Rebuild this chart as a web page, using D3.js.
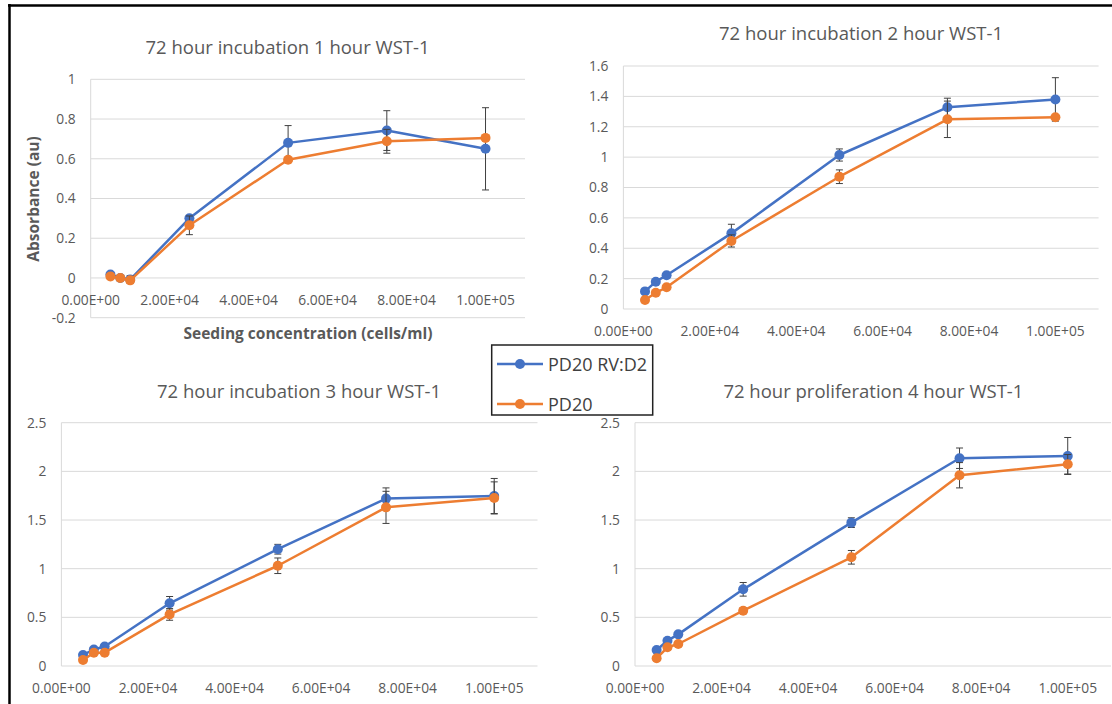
<!DOCTYPE html>
<html>
<head>
<meta charset="utf-8">
<script src="https://cdn.jsdelivr.net/npm/d3@7"></script>
<style>
    body { margin: 0; background: #fff; }
    svg { display: block; font-family: "Open Sans", sans-serif; }
    .tick-label { fill: #595959; font-size: 13.8px; }
    .chart-title { fill: #595959; font-size: 18.5px; }
    .axis-title { fill: #595959; font-size: 15.5px; font-weight: bold; }
    .grid { stroke: #d9d9d9; stroke-width: 1; }
    .err { stroke: #404040; stroke-width: 1; }
    .legend-text { fill: #404040; font-size: 18px; }
</style>
</head>
<body>
<div id="chart"></div>
<script>

// seeding concentrations (cells/ml), shared by all four charts
var concentrations = [5000, 7500, 10000, 25000, 50000, 75000, 100000];
var seriesNames = ["PD20 RV:D2", "PD20"];
var seriesColors = ["#4472C4", "#ED7D31"];
var xTicks = [0, 20000, 40000, 60000, 80000, 100000];

var titles = [
    "72 hour incubation 1 hour WST-1",
    "72 hour incubation 2 hour WST-1",
    "72 hour incubation 3 hour WST-1",
    "72 hour proliferation 4 hour WST-1"
];

// absorbance means and error bars (au)
var rvD2_1h = [0.017, 0.0, -0.008, 0.30, 0.68, 0.742, 0.65];
var pd20_1h = [0.008, 0.0, -0.012, 0.265, 0.595, 0.688, 0.705];
var rvD2_1hErr = [0.01, 0.01, 0.02, 0.015, 0.087, 0.10, 0.207];
var pd20_1hErr = [0.01, 0.01, 0.01, 0.047, 0.01, 0.06, 0.01];

var rvD2_2h = [0.116, 0.18, 0.222, 0.498, 1.014, 1.328, 1.38];
var pd20_2h = [0.059, 0.107, 0.143, 0.448, 0.871, 1.249, 1.262];
var rvD2_2hErr = [0.01, 0.01, 0.01, 0.06, 0.04, 0.06, 0.143];
var pd20_2hErr = [0.01, 0.01, 0.01, 0.04, 0.045, 0.12, 0.01];

var rvD2_3h = [0.113, 0.17, 0.2, 0.644, 1.2, 1.72, 1.747];
var pd20_3h = [0.062, 0.137, 0.137, 0.53, 1.03, 1.63, 1.727];
var rvD2_3hErr = [0.01, 0.02, 0.02, 0.07, 0.05, 0.11, 0.18];
var pd20_3hErr = [0.02, 0.02, 0.02, 0.06, 0.08, 0.165, 0.165];

var rvD2_4h = [0.164, 0.26, 0.325, 0.788, 1.473, 2.135, 2.158];
var pd20_4h = [0.079, 0.192, 0.226, 0.568, 1.117, 1.96, 2.073];
var rvD2_4hErr = [0.02, 0.02, 0.02, 0.07, 0.05, 0.105, 0.19];
var pd20_4hErr = [0.01, 0.02, 0.02, 0.03, 0.07, 0.13, 0.1];

var yTicks1 = [-0.2, 0, 0.2, 0.4, 0.6, 0.8, 1];
var yTicks2 = [0, 0.2, 0.4, 0.6, 0.8, 1, 1.2, 1.4, 1.6];
var yTicks34 = [0, 0.5, 1, 1.5, 2, 2.5];

var width = 1112, height = 704;

var svg = d3.select("#chart").append("svg")
    .attr("width", width)
    .attr("height", height);

// layout of each chart's plot area
var panels = [
    {left: 90.7, right: 525, top: 79.3, bottom: 317.7, yTicks: yTicks1, titleX: 287.5, titleY: 47,
     series: [[rvD2_1h, rvD2_1hErr], [pd20_1h, pd20_1hErr]]},
    {left: 623.4, right: 1098.6, top: 66, bottom: 309, yTicks: yTicks2, titleX: 861, titleY: 33,
     series: [[rvD2_2h, rvD2_2hErr], [pd20_2h, pd20_2hErr]]},
    {left: 61.4, right: 537.5, top: 422.7, bottom: 666, yTicks: yTicks34, titleX: 299, titleY: 391,
     series: [[rvD2_3h, rvD2_3hErr], [pd20_3h, pd20_3hErr]]},
    {left: 635, right: 1111, top: 422.7, bottom: 666, yTicks: yTicks34, titleX: 873.4, titleY: 391,
     series: [[rvD2_4h, rvD2_4hErr], [pd20_4h, pd20_4hErr]]}
];

// Excel style scientific labels, e.g. 2.00E+04
function sciFormat(v) {
    var parts = v.toExponential(2).split("e");
    var exp = +parts[1];
    var sign = exp < 0 ? "-" : "+";
    return parts[0] + "E" + sign + d3.format("02d")(Math.abs(exp));
}

function drawPanel(p, idx) {
    var g = svg.append("g").attr("class", "panel");

    var x = d3.scaleLinear()
        .domain([0, 110000])
        .range([p.left, p.right]);
    var y = d3.scaleLinear()
        .domain(d3.extent(p.yTicks))
        .range([p.bottom, p.top]);

    //horizontal gridlines and the left axis line
    g.selectAll(".grid")
        .data(p.yTicks)
        .enter()
        .append("line")
        .attr("class", "grid")
        .attr("x1", p.left)
        .attr("x2", p.right)
        .attr("y1", function(d) { return y(d); })
        .attr("y2", function(d) { return y(d); });
    g.append("line")
        .attr("class", "grid")
        .attr("x1", p.left).attr("x2", p.left)
        .attr("y1", p.top).attr("y2", p.bottom);

    //y tick labels
    g.selectAll(".ylab")
        .data(p.yTicks)
        .enter()
        .append("text")
        .attr("class", "tick-label")
        .attr("text-anchor", "end")
        .attr("x", p.left - 15)
        .attr("y", function(d) { return y(d); })
        .attr("dy", "0.36em")
        .text(function(d) { return String(d); });

    //x tick labels sit under the zero line
    g.selectAll(".xlab")
        .data(xTicks)
        .enter()
        .append("text")
        .attr("class", "tick-label")
        .attr("text-anchor", "middle")
        .attr("x", function(d) { return x(d); })
        .attr("y", y(0) + 27)
        .text(sciFormat);

    g.append("text")
        .attr("class", "chart-title")
        .attr("text-anchor", "middle")
        .attr("x", p.titleX)
        .attr("y", p.titleY + 6.6)
        .text(titles[idx]);

    var line = d3.line()
        .x(function(d, i) { return x(concentrations[i]); })
        .y(function(d) { return y(d); });

    p.series.forEach(function(s, k) {
        var vals = s[0], errs = s[1];
        var sg = g.append("g");

        sg.append("path")
            .datum(vals)
            .attr("fill", "none")
            .attr("stroke", seriesColors[k])
            .attr("stroke-width", 2.5)
            .attr("stroke-linejoin", "round")
            .attr("d", line);

        //error bars with small caps
        var eb = sg.selectAll(".eb")
            .data(vals)
            .enter()
            .append("g")
            .attr("class", "err");
        eb.append("line")
            .attr("x1", function(d, i) { return x(concentrations[i]); })
            .attr("x2", function(d, i) { return x(concentrations[i]); })
            .attr("y1", function(d, i) { return y(d - errs[i]); })
            .attr("y2", function(d, i) { return y(d + errs[i]); });
        [-1, 1].forEach(function(dir) {
            eb.append("line")
                .attr("x1", function(d, i) { return x(concentrations[i]) - 3.5; })
                .attr("x2", function(d, i) { return x(concentrations[i]) + 3.5; })
                .attr("y1", function(d, i) { return y(d + dir * errs[i]); })
                .attr("y2", function(d, i) { return y(d + dir * errs[i]); });
        });

        sg.selectAll("circle")
            .data(vals)
            .enter()
            .append("circle")
            .attr("cx", function(d, i) { return x(concentrations[i]); })
            .attr("cy", function(d) { return y(d); })
            .attr("r", 5)
            .attr("fill", seriesColors[k]);
    });
}

panels.forEach(drawPanel);

//axis titles only on the first chart
svg.append("text")
    .attr("class", "axis-title")
    .attr("text-anchor", "middle")
    .attr("transform", "translate(39,199) rotate(-90)")
    .text("Absorbance (au)");
svg.append("text")
    .attr("class", "axis-title")
    .attr("text-anchor", "middle")
    .attr("x", 308)
    .attr("y", 339)
    .text("Seeding concentration (cells/ml)");

//legend box in the middle of the page
var legend = svg.append("g");
legend.append("rect")
    .attr("x", 491.7)
    .attr("y", 345)
    .attr("width", 161)
    .attr("height", 70)
    .attr("fill", "#fff")
    .attr("stroke", "#222")
    .attr("stroke-width", 1.5);
seriesNames.forEach(function(name, k) {
    var ly = 364 + k * 40;
    legend.append("line")
        .attr("x1", 497).attr("x2", 543)
        .attr("y1", ly).attr("y2", ly)
        .attr("stroke", seriesColors[k])
        .attr("stroke-width", 2.5);
    legend.append("circle")
        .attr("cx", 520).attr("cy", ly)
        .attr("r", 5)
        .attr("fill", seriesColors[k]);
    legend.append("text")
        .attr("class", "legend-text")
        .attr("x", 548)
        .attr("y", ly + 6.5)
        .text(name);
});

//page frame: top and left rules
svg.append("line")
    .attr("x1", 8).attr("x2", width)
    .attr("y1", 5.5).attr("y2", 5.5)
    .attr("stroke", "#000").attr("stroke-width", 2.5);
svg.append("line")
    .attr("x1", 9.5).attr("x2", 9.5)
    .attr("y1", 4).attr("y2", height)
    .attr("stroke", "#000").attr("stroke-width", 2.5);

</script>
</body>
</html>
